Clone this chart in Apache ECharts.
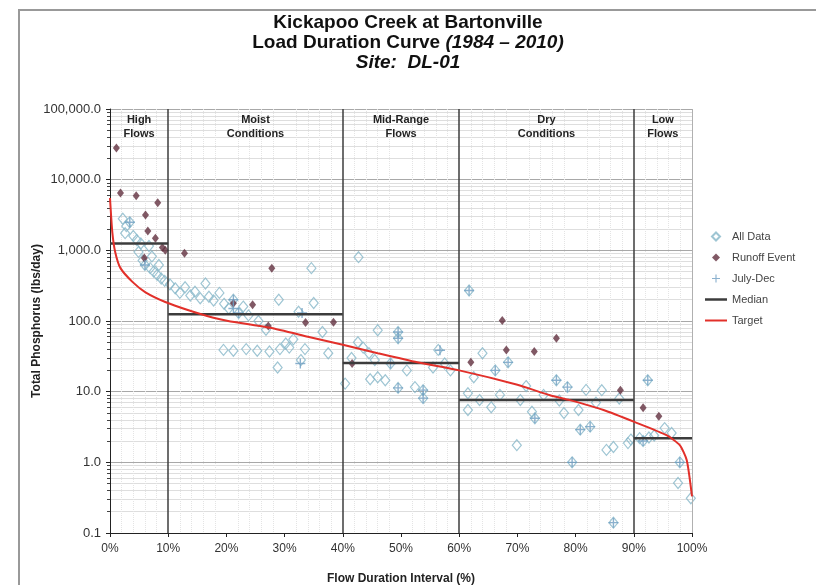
<!DOCTYPE html>
<html>
<head>
<meta charset="utf-8">
<script src="https://cdn.jsdelivr.net/npm/echarts@6/dist/echarts.min.js"></script>
<style>
  html, body { margin: 0; padding: 0; background: #fff; }
  #chart { width: 816px; height: 585px; }
</style>
</head>
<body>
<div id="chart"></div>
<script>
// flow duration (%) vs total phosphorus load (lbs/day)

const allData = [
  [2.2, 2800], [2.8, 2200], [3.4, 2500], [2.6, 1750], [4.0, 1600], [4.6, 1400], [5.3, 1250],
  [6.7, 1150], [4.9, 950], [5.6, 720], [6.0, 620], [6.9, 560], [7.5, 500], [8.1, 450],
  [8.8, 400], [9.4, 370], [7.2, 820], [8.4, 620],
  [10.3, 330], [11.2, 290], [12.0, 250], [12.9, 300], [13.8, 230], [14.6, 260], [15.5, 210],
  [16.4, 340], [17.0, 220], [17.8, 195], [18.8, 250], [19.6, 175], [20.4, 150], [21.2, 200],
  [22.1, 130], [22.9, 160], [23.8, 120], [25.5, 100], [19.5, 39], [21.2, 38], [23.4, 40],
  [25.3, 38], [27.4, 37], [29.2, 40], [30.8, 42], [28.8, 22], [29.0, 200], [34.6, 560],
  [35.0, 180], [32.4, 135], [31.5, 55], [30.2, 48], [32.8, 28], [37.5, 35], [36.5, 70],
  [26.8, 75], [33.5, 40],
  [40.4, 13], [42.7, 800], [42.6, 50], [43.5, 42], [41.5, 30], [44.5, 35], [46.0, 74],
  [49.5, 70], [49.5, 57], [44.7, 15], [46.0, 16], [47.3, 14.5], [48.2, 25], [51.0, 20],
  [52.4, 11.6], [53.8, 10.5], [53.8, 8.1], [55.5, 22], [56.4, 39], [57.5, 25], [58.5, 20],
  [49.5, 11.3], [45.5, 28],
  [61.7, 270], [64.0, 35], [62.5, 16], [61.5, 9.5], [63.5, 7.6], [65.5, 6.0], [61.5, 5.5],
  [68.4, 26], [66.2, 20], [69.9, 1.75], [70.5, 7.6], [72.5, 5.2], [73.0, 4.2], [71.5, 12],
  [74.5, 9], [76.7, 14.5], [78.6, 11.6], [77.2, 7.5], [78.0, 5.0], [80.5, 5.5], [80.8, 2.9],
  [82.5, 3.2], [81.8, 10.6], [84.5, 10.5], [83.5, 7.0], [85.3, 1.5], [86.5, 1.65], [89.0, 1.87],
  [86.5, 0.14], [79.4, 1.0], [87.5, 8], [67.0, 9], [89.5, 2.1],
  [92.4, 14.5], [95.3, 3.05], [91.0, 2.2], [91.6, 2.0], [92.6, 2.25], [97.9, 1.0], [97.6, 0.51],
  [99.8, 0.31], [96.5, 2.6], [93.5, 2.4]
];

const runoffEvents = [
  [1.1, 28000], [1.8, 6500], [4.5, 5900], [8.2, 4700], [6.1, 3150], [6.5, 1870], [7.8, 1480],
  [9.0, 1100], [9.5, 1000], [5.9, 780], [12.8, 910], [27.8, 560], [21.2, 178], [24.5, 170],
  [27.2, 85], [33.6, 95], [38.4, 96], [41.6, 25], [67.4, 102], [76.7, 57], [68.1, 39],
  [72.9, 37], [62.0, 26], [87.7, 10.5], [91.6, 5.9], [94.3, 4.5]
];

const julyDec = [
  [21.2, 200], [21.2, 150], [22.1, 130], [32.7, 25], [33.0, 130], [49.5, 70], [49.5, 57],
  [49.5, 11.3], [53.8, 8.1], [53.8, 10.5], [56.7, 38.6], [48.2, 25], [68.4, 26], [73.0, 4.2],
  [76.7, 14.5], [78.6, 11.6], [79.4, 1.0], [80.8, 2.9], [82.5, 3.2], [86.5, 0.14], [92.4, 14.5],
  [91.6, 2.0], [97.9, 1.0], [61.7, 270], [66.2, 20], [3.4, 2500], [6.0, 620]
];

const targetPct  = [0, 0.4, 0.9, 1.8, 3.9, 6.1, 9.5, 13.5, 17.6, 20.3, 27.5, 34, 40, 46, 52.8, 60, 70, 75.6, 79, 84.8, 90.2, 95.7, 97.9, 99.1, 100];
const targetLoad = [5500, 1800, 940, 560, 355, 255, 186, 142, 112, 100, 80, 60, 46, 35, 26, 20, 12.5, 8.9, 7.6, 5.5, 3.7, 2.4, 1.75, 1.07, 0.33];

// [from %, to %, median load]
const medianZones = [[0, 10, 1250], [10, 40, 125], [40, 60, 25.5], [60, 90, 7.6], [90, 100, 2.2]];

const zoneBounds = [10, 40, 60, 90];
const zoneNames = ['High\nFlows', 'Moist\nConditions', 'Mid-Range\nFlows', 'Dry\nConditions', 'Low\nFlows'];
const zoneCenters = [5, 25, 50, 75, 95];

const FONT = 'Liberation Sans, Arial, sans-serif';
const DIAMOND = 'path://M4,0L8,4L4,8L0,4Z';
const PLUS = 'path://M4.3,0H5.7V10H4.3Z M0,4.3H10V5.7H0Z';

const chart = echarts.init(document.getElementById('chart'));

function fmtLoad(v) {
  return Number(v).toLocaleString('en-US', { minimumFractionDigits: 1, maximumFractionDigits: 1 });
}

const medianSeries = medianZones.map(z => ({
  name: 'Median',
  type: 'line',
  symbol: 'none',
  silent: true,
  lineStyle: { color: '#3c3c3c', width: 2.5 },
  itemStyle: { color: '#3c3c3c' },
  data: [[z[0], z[2]], [z[1], z[2]]],
  z: 4
}));

const option = {
  animation: false,
  backgroundColor: '#fff',
  textStyle: { fontFamily: FONT },
  title: {
    left: 'center',
    top: 8,
    text: '{n|Kickapoo Creek at Bartonville}\n{n|Load Duration Curve }{i|(1984 – 2010)}\n{i|Site:  DL-01}',
    textStyle: {
      rich: {
        n: { fontFamily: FONT, fontSize: 19, fontWeight: 'bold', color: '#111', lineHeight: 20 },
        i: { fontFamily: FONT, fontSize: 19, fontWeight: 'bold', fontStyle: 'italic', color: '#111', lineHeight: 20 }
      }
    }
  },
  legend: {
    orient: 'vertical',
    left: 700,
    top: 226,
    itemWidth: 22,
    itemHeight: 8,
    itemGap: 10,
    symbolKeepAspect: true,
    textStyle: { fontFamily: FONT, fontSize: 11, color: '#444' },
    data: [
      { name: 'All Data', icon: DIAMOND },
      { name: 'Runoff Event', icon: DIAMOND },
      { name: 'July-Dec', icon: PLUS },
      { name: 'Median', icon: 'path://M0,0H22V2.5H0Z' },
      { name: 'Target', icon: 'path://M0,0H22V2H0Z' }
    ]
  },
  grid: { left: 110, top: 109, width: 582, height: 424, outerBoundsMode: 'none' },
  xAxis: {
    type: 'value',
    min: 0,
    max: 100,
    interval: 10,
    name: 'Flow Duration Interval (%)',
    nameLocation: 'middle',
    nameGap: 40,
    nameMoveOverlap: false,
    nameTextStyle: { fontFamily: FONT, fontSize: 12, fontWeight: 'bold', color: '#222' },
    axisLine: { lineStyle: { color: '#222', width: 1 } },
    axisTick: { show: true, length: 4, lineStyle: { color: '#222' } },
    axisLabel: { fontFamily: FONT, fontSize: 12, color: '#333', margin: 10, formatter: v => v + '%' },
    splitLine: { show: false },
    minorTick: { show: false, splitNumber: 5 },
    minorSplitLine: { show: true, lineStyle: { color: '#e4e4e4', type: 'dotted' } }
  },
  yAxis: {
    type: 'log',
    logBase: 10,
    min: 0.1,
    max: 100000,
    name: 'Total Phosphorus (lbs/day)',
    nameLocation: 'middle',
    nameGap: 67,
    nameMoveOverlap: false,
    nameTextStyle: { fontFamily: FONT, fontSize: 12, fontWeight: 'bold', color: '#222' },
    axisLine: { show: true, lineStyle: { color: '#222', width: 1 } },
    axisTick: { show: true, length: 4, lineStyle: { color: '#222' } },
    minorTick: { show: true, splitNumber: 9, length: 3, lineStyle: { color: '#444' } },
    axisLabel: { fontFamily: FONT, fontSize: 13, color: '#333', margin: 9, formatter: fmtLoad },
    splitLine: { show: true, lineStyle: { color: '#a8a8a8', width: 1 } },
    minorSplitLine: { show: true, lineStyle: { color: '#dedede', width: 1 } }
  },
  series: [
    {
      name: 'All Data',
      type: 'scatter',
      symbol: 'diamond',
      symbolSize: [9, 11],
      itemStyle: { color: 'rgba(255,255,255,0)', borderColor: '#86b6c8', borderWidth: 1.2 },
      data: allData,
      z: 2,
      markLine: {
        silent: true,
        symbol: ['none', 'none'],
        label: { show: false },
        data: zoneBounds.map(x => ({ xAxis: x, lineStyle: { color: '#3c3c3c', width: 1.5, type: 'solid' } }))
          .concat([{ xAxis: 100, lineStyle: { color: '#b0b0b0', width: 1, type: 'solid' } }])
      }
    },
    {
      name: 'Runoff Event',
      type: 'scatter',
      symbol: 'diamond',
      symbolSize: [7, 9],
      itemStyle: { color: '#62303f' },
      data: runoffEvents,
      z: 3
    },
    {
      name: 'July-Dec',
      type: 'scatter',
      symbol: PLUS,
      symbolSize: 10,
      itemStyle: { color: '#6e9ec2' },
      data: julyDec,
      z: 3
    },
    ...medianSeries,
    {
      name: 'Target',
      type: 'line',
      symbol: 'none',
      smooth: 0.2,
      silent: true,
      lineStyle: { color: '#e2302a', width: 2 },
      itemStyle: { color: '#e2302a' },
      data: targetPct.map((p, i) => [p, targetLoad[i]]),
      z: 5
    }
  ]
};

chart.setOption(option);

// zone labels and outer frame
const zoneText = zoneNames.map((t, i) => {
  const p = chart.convertToPixel({ gridIndex: 0 }, [zoneCenters[i], 100000]);
  return {
    type: 'text',
    x: p[0],
    y: p[1] + 4,
    style: {
      text: t,
      fill: '#222',
      font: 'bold 11px ' + FONT,
      textAlign: 'center',
      lineHeight: 14
    },
    silent: true,
    z: 10
  };
});

chart.setOption({
  graphic: [
    {
      type: 'rect',
      shape: { x: 19, y: 10, width: 900, height: 700 },
      style: { fill: 'none', stroke: '#999', lineWidth: 2 },
      silent: true
    },
    ...zoneText
  ]
});
</script>
</body>
</html>
